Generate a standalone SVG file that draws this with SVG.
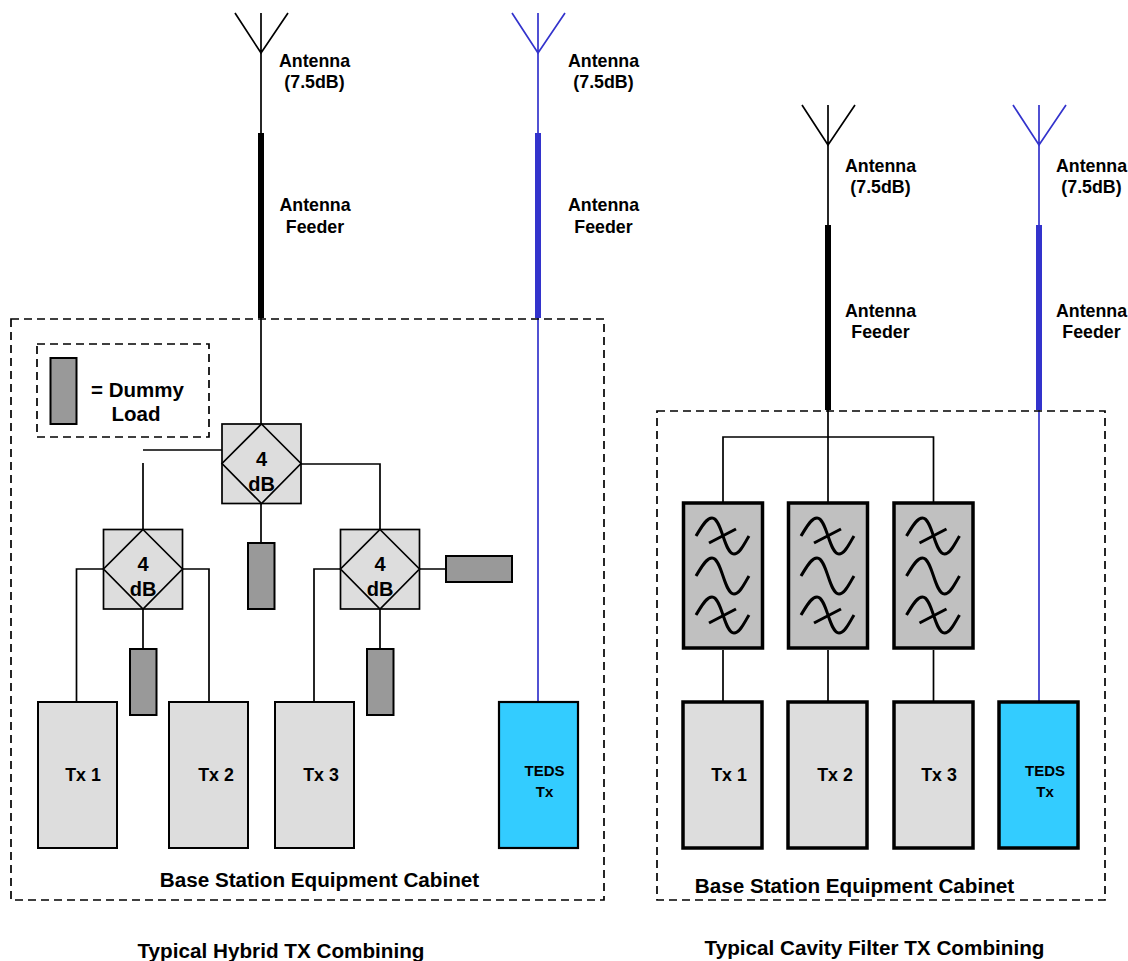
<svg xmlns="http://www.w3.org/2000/svg" width="1128" height="961" viewBox="0 0 1128 961">
<style>
text{font-family:"Liberation Sans",Arial,sans-serif;font-weight:bold;fill:#000;text-anchor:middle}
.t18{font-size:17.800px}.t20{font-size:20.500px}.t21{font-size:20.700px}.t15{font-size:15px}.t19{font-size:20px}
.l{fill:none;stroke:#000;stroke-width:1.700}
.lb{fill:none;stroke:#3333cc;stroke-width:1.700}
.fb{fill:none;stroke:#000;stroke-width:6}
.fbb{fill:none;stroke:#3333cc;stroke-width:6}
.cab{fill:none;stroke:#000;stroke-width:1.700;stroke-dasharray:8 5}
.hy{fill:#ddd;stroke:#000;stroke-width:1.700}
.dl{fill:#999;stroke:#000;stroke-width:2}
.tx{fill:#ddd;stroke:#000;stroke-width:2}
.txk{fill:#ddd;stroke:#000;stroke-width:3.500}
.teds{fill:#33ccff;stroke:#000;stroke-width:2.200}
.tedsk{fill:#33ccff;stroke:#000;stroke-width:3.500}
.flt{fill:#c0c0c0;stroke:#000;stroke-width:3.500}
.w{fill:none;stroke:#000;stroke-width:3}
</style>
<defs>
<path id="wave" class="w" d="M-27,0 C-22,-8 -17,-18 -11,-18 C-1,-18 1,18 11,18 C17,18 21,8 26,0"/>
<g id="filter">
<rect class="flt" x="-39.500" y="-73" width="79" height="145"/>
<use href="#wave" y="-40"/><use href="#wave" y="0"/><use href="#wave" y="39"/>
<path class="w" d="M-14,-33 L13,-47"/><path class="w" d="M-14,47 L13,33"/>
</g>
<g id="hybrid">
<rect class="hy" x="-39.500" y="-39.500" width="79" height="79.500"/>
<path class="hy" d="M0,-39.500 L39.500,0 L0,40 L-39.500,0 Z"/>
<text class="t19" y="2">4</text><text class="t19" y="27">dB</text>
</g>
<path id="ant" d="M0,53 L0,13 M-26,13 L0,53 L27,13"/>
</defs>
<g id="connectors">
<path class="l" d="M261,53 V424"/>
<path class="fb" d="M261,133 V318"/>
<path class="lb" d="M538,53 V702"/>
<path class="fbb" d="M538,133 V318"/>
<path class="l" d="M222,450 H143 M143,463 V530 M301,464 H380 V530 M261,503 V543 M104,569 H76.500 V702 M182,569 H209 V702 M143,608 V649 M341,569 H314 V702 M419,569 H446 M380,608 V649"/>
<path class="l" d="M828,145 V503"/>
<path class="fb" d="M828,225 V410"/>
<path class="lb" d="M1039,145 V701"/>
<path class="fbb" d="M1039,225 V410"/>
<path class="l" d="M723,503 V437 H933.500 V503 M723,650 V701 M828,650 V701 M933.500,650 V701"/>
</g>
<g id="cabinet-hybrid"><rect class="cab" x="11" y="319" width="593" height="581"/></g>
<g id="legend"><rect class="cab" x="37" y="344" width="172" height="93"/>
<rect class="dl" x="50.500" y="358" width="26" height="66"/>
<text class="t20" x="137.500" y="396.500">= Dummy</text><text class="t20" x="136" y="421">Load</text></g>
<g id="ant1" class="l"><use href="#ant" x="261"/></g>
<g id="ant2" class="lb"><use href="#ant" x="538"/></g>
<g id="ant3" class="l"><use href="#ant" x="828" y="92"/></g>
<g id="ant4" class="lb"><use href="#ant" x="1039" y="92"/></g>
<g id="labels-top">
<text class="t18" x="314.500" y="66.500">Antenna</text><text class="t18" x="314.500" y="88">(7.5dB)</text>
<text class="t18" x="603.500" y="66.500">Antenna</text><text class="t18" x="603.500" y="88">(7.5dB)</text>
<text class="t18" x="315" y="211">Antenna</text><text class="t18" x="315" y="233">Feeder</text>
<text class="t18" x="603.500" y="211">Antenna</text><text class="t18" x="603.500" y="233">Feeder</text>
<text class="t18" x="880.500" y="172">Antenna</text><text class="t18" x="880.500" y="193">(7.5dB)</text>
<text class="t18" x="1091.500" y="172">Antenna</text><text class="t18" x="1091.500" y="193">(7.5dB)</text>
<text class="t18" x="880.500" y="317">Antenna</text><text class="t18" x="880.500" y="338">Feeder</text>
<text class="t18" x="1091.500" y="317">Antenna</text><text class="t18" x="1091.500" y="338">Feeder</text>
</g>
<g id="hyb1"><use href="#hybrid" transform="translate(261.500,463.500)"/></g>
<g id="hyb2"><use href="#hybrid" transform="translate(143,569)"/></g>
<g id="hyb3"><use href="#hybrid" transform="translate(380,569)"/></g>
<g id="load1"><rect class="dl" x="248" y="543" width="26.500" height="66"/></g>
<g id="load2"><rect class="dl" x="130" y="649" width="26.500" height="66"/></g>
<g id="load3"><rect class="dl" x="367" y="649" width="26.500" height="66"/></g>
<g id="load4"><rect class="dl" x="446" y="556" width="66" height="26"/></g>
<g id="tx1"><rect class="tx" x="38" y="702" width="79" height="146"/><text class="t18" x="83" y="781">Tx 1</text></g>
<g id="tx2"><rect class="tx" x="169" y="702" width="79" height="146"/><text class="t18" x="216" y="781">Tx 2</text></g>
<g id="tx3"><rect class="tx" x="275" y="702" width="79" height="146"/><text class="t18" x="321" y="781">Tx 3</text></g>
<g id="teds1"><rect class="teds" x="499" y="702" width="79" height="146"/><text class="t15" x="544.500" y="776">TEDS</text><text class="t15" x="544.500" y="797">Tx</text></g>
<g id="cabinet-hybrid-label"><text class="t21" x="319.500" y="887">Base Station Equipment Cabinet</text></g>
<g id="title-hybrid"><text class="t21" x="281" y="958">Typical Hybrid TX Combining</text></g>
<g id="cabinet-cavity"><rect class="cab" x="657" y="411" width="448" height="489"/></g>
<g id="f1"><use href="#filter" transform="translate(723,576)"/></g>
<g id="f2"><use href="#filter" transform="translate(828,576)"/></g>
<g id="f3"><use href="#filter" transform="translate(933.500,576)"/></g>
<g id="tx4"><rect class="txk" x="683" y="702" width="79" height="146"/><text class="t18" x="729" y="781">Tx 1</text></g>
<g id="tx5"><rect class="txk" x="788" y="702" width="79" height="146"/><text class="t18" x="835" y="781">Tx 2</text></g>
<g id="tx6"><rect class="txk" x="894" y="702" width="79" height="146"/><text class="t18" x="939" y="781">Tx 3</text></g>
<g id="teds2"><rect class="tedsk" x="999" y="702" width="79" height="146"/><text class="t15" x="1045" y="776">TEDS</text><text class="t15" x="1045" y="797">Tx</text></g>
<g id="cabinet-cavity-label"><text class="t21" x="854.500" y="893">Base Station Equipment Cabinet</text></g>
<g id="title-cavity"><text class="t21" x="874.500" y="955">Typical Cavity Filter TX Combining</text></g>
</svg>
